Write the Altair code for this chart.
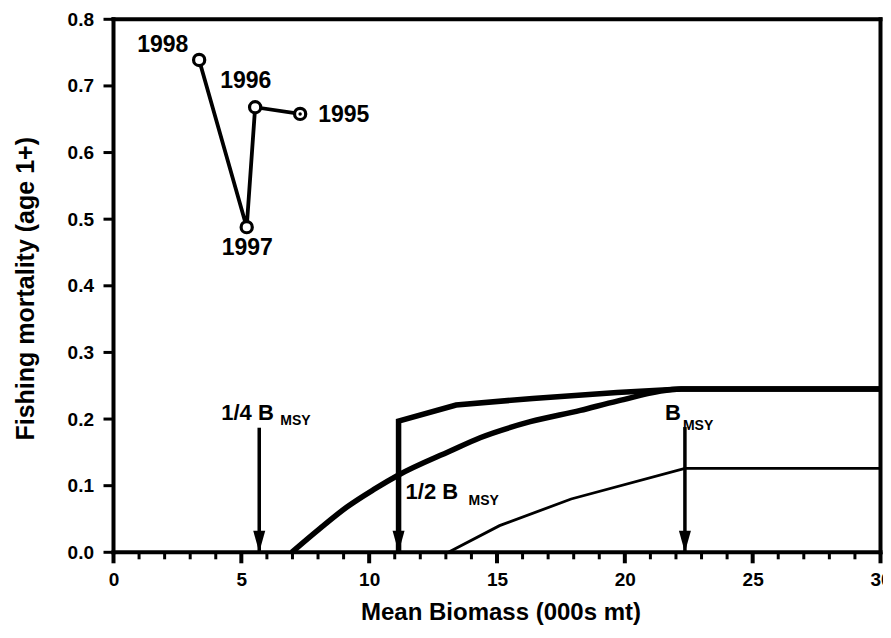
import altair as alt
import pandas as pd

FONT = "Liberation Sans"

# ---- stock trajectory ----
years = [1995, 1996, 1997, 1998]
biomass = [7.3, 5.54, 5.21, 3.35]
fmort = [0.658, 0.668, 0.488, 0.739]

# ---- harvest control rule curves ----
lower_x = [6.97, 8.08, 9.13, 10.17, 11.15, 13.17, 14.34, 16.3, 18.26, 19.7, 22.2, 30]
lower_y = [0.0, 0.036, 0.068, 0.094, 0.116, 0.152, 0.172, 0.196, 0.213, 0.227, 0.245, 0.245]
upper_x = [11.15, 11.15, 13.4, 16.4, 19.7, 22.2, 30]
upper_y = [0.0, 0.197, 0.221, 0.231, 0.240, 0.245, 0.245]
thin_x = [13.1, 15.1, 17.9, 22.35, 30]
thin_y = [0.0, 0.040, 0.080, 0.126, 0.126]

# ---- reference points (arrows) ----
ref_main = ["1/4 B", "1/2 B", "B"]
ref_sub = ["MSY", "MSY", "MSY"]
ref_x = [5.7, 11.15, 22.35]
ref_top = [0.187, 0.197, 0.188]

# ---- axes ----
x_ticks = list(range(0, 31))
x_labels = [0, 5, 10, 15, 20, 25, 30]
y_ticks = [0.0, 0.1, 0.2, 0.3, 0.4, 0.5, 0.6, 0.7, 0.8]
X_MIN, X_MAX = 0, 30
Y_MIN, Y_MAX = 0.0, 0.8

# styles (pixels)
INNER_W, INNER_H = 767, 533          # pixels spanned by 0..30 and 0..0.8
MAJOR_LEN, MINOR_LEN, Y_TICK_LEN = 11, 7, 10
year_offsets = {1998: (-62, -8), 1996: (-35, -19), 1995: (18, 8), 1997: (-25, 28)}
main_offsets = [(-38, -8), (7, 78), (-20, -7)]
sub_offsets = [(21, -3), (70, 84), (-2, 3)]

# pixel -> data unit conversions for the tick lengths
px_x = (X_MAX - X_MIN) / INNER_W
px_y = (Y_MAX - Y_MIN) / INNER_H
x_lo = X_MIN - Y_TICK_LEN * px_x
y_lo = Y_MIN - MAJOR_LEN * px_y

traj = pd.DataFrame({"year": years, "B": biomass, "F": fmort})


def curve_df(xv, yv):
    return pd.DataFrame({"B": xv, "F": yv, "i": list(range(len(xv)))})


refs = pd.DataFrame({"main": ref_main, "sub": ref_sub, "B": ref_x, "F": ref_top,
                     "base": [0.0] * len(ref_x)})

# tick segments (data driven, lengths from the style constants)
xt = pd.DataFrame({
    "B": x_ticks,
    "F": [Y_MIN] * len(x_ticks),
    "F2": [Y_MIN - (MAJOR_LEN if t % 5 == 0 else MINOR_LEN) * px_y for t in x_ticks],
    "w": [4 if t % 5 == 0 else 3 for t in x_ticks],
})
yt = pd.DataFrame({
    "F": y_ticks,
    "B": [X_MIN] * len(y_ticks),
    "B2": [X_MIN - Y_TICK_LEN * px_x] * len(y_ticks),
})
frame = pd.DataFrame({
    "B": [X_MIN, X_MIN, X_MIN, X_MAX],
    "F": [Y_MIN, Y_MIN, Y_MAX, Y_MIN],
    "B2": [X_MAX, X_MIN, X_MAX, X_MAX],
    "F2": [Y_MIN, Y_MAX, Y_MAX, Y_MAX],
})

xs = alt.Scale(domain=[x_lo, X_MAX], nice=False, zero=False)
ys = alt.Scale(domain=[y_lo, Y_MAX], nice=False, zero=False)

common = dict(
    domain=False, ticks=False, grid=False,
    labelFont=FONT, labelFontWeight="bold", labelColor="black", labelFontSize=19,
    labelOverlap=False, labelFlush=False,
    titleFont=FONT, titleFontWeight="bold", titleColor="black",
)
x_axis = alt.Axis(
    values=x_labels, format="d", labelPadding=7,
    title="Mean Biomass (000s mt)", titleFontSize=24,
    titleX=397, titleY=56, titleBaseline="alphabetic", titleAlign="center",
    **common,
)
y_axis = alt.Axis(
    values=y_ticks, format=".1f", labelPadding=10,
    title="Fishing mortality (age 1+)", titleFontSize=25,
    titleX=-70, titleY=269, titleAngle=270, titleBaseline="alphabetic", titleAlign="center",
    **common,
)

X = alt.X("B:Q", scale=xs, axis=x_axis)
Y = alt.Y("F:Q", scale=ys, axis=y_axis)

frame_l = alt.Chart(frame).mark_rule(color="black", strokeWidth=4, strokeCap="square").encode(
    x=X, y=Y, x2="B2:Q", y2="F2:Q")
x_tk = alt.Chart(xt).mark_rule(color="black").encode(
    x=X, y=Y, y2="F2:Q", strokeWidth=alt.StrokeWidth("w:Q", scale=None, legend=None))
y_tk = alt.Chart(yt).mark_rule(color="black", strokeWidth=3).encode(
    x=X, y=Y, x2="B2:Q")

lower = alt.Chart(curve_df(lower_x, lower_y)).mark_line(
    color="black", strokeWidth=5.5, interpolate="monotone").encode(x=X, y=Y, order="i:Q")
upper = alt.Chart(curve_df(upper_x, upper_y)).mark_line(
    color="black", strokeWidth=5.5, strokeJoin="miter").encode(x=X, y=Y, order="i:Q")
thin = alt.Chart(curve_df(thin_x, thin_y)).mark_line(
    color="black", strokeWidth=2.8).encode(x=X, y=Y, order="i:Q")

shafts = alt.Chart(refs).mark_rule(color="black", strokeWidth=3.5).encode(
    x=X, y=Y, y2="base:Q")
heads = alt.Chart(refs).mark_point(
    shape="M -1 -3.6 L 1 -3.6 L 0 0 Z", size=144, filled=True, color="black",
    opacity=1).encode(x=X, y=alt.Y("base:Q", scale=ys, axis=y_axis))

layers = [frame_l, x_tk, y_tk, lower, upper, thin, shafts, heads]

for i in range(len(ref_main)):
    d = refs.iloc[[i]]
    layers.append(alt.Chart(d).mark_text(
        font=FONT, fontWeight="bold", fontSize=22, align="left", baseline="alphabetic",
        dx=main_offsets[i][0], dy=main_offsets[i][1], color="black").encode(
        x=X, y=Y, text="main:N"))
    layers.append(alt.Chart(d).mark_text(
        font=FONT, fontWeight="bold", fontSize=14, align="left", baseline="alphabetic",
        dx=sub_offsets[i][0], dy=sub_offsets[i][1], color="black").encode(
        x=X, y=Y, text="sub:N"))

traj_line = alt.Chart(traj).mark_line(color="black", strokeWidth=3.8).encode(
    x=X, y=Y, order="year:Q")
traj_pts = alt.Chart(traj).mark_point(
    shape="circle", size=125, filled=True, fill="white", stroke="black",
    strokeWidth=3.2, opacity=1).encode(x=X, y=Y)
dot95 = alt.Chart(traj[traj.year == 1995]).mark_point(
    shape="circle", size=12, filled=True, color="black", opacity=1).encode(x=X, y=Y)
layers += [traj_line, traj_pts, dot95]

for yr in years:
    d = traj[traj.year == yr]
    dx, dy = year_offsets[yr]
    layers.append(alt.Chart(d).mark_text(
        font=FONT, fontWeight="bold", fontSize=23, align="left", baseline="alphabetic",
        dx=dx, dy=dy, color="black").encode(x=X, y=Y, text="year:N"))

chart = alt.layer(*layers).properties(
    width=INNER_W + Y_TICK_LEN, height=INNER_H + MAJOR_LEN,
    autosize=alt.AutoSizeParams(type="none"),
    padding={"left": 95.5, "top": 11.3, "right": 2.5, "bottom": 62.7},
).configure_view(
    strokeWidth=0,
)

chart.save("out.html", embed_options={"renderer": "svg", "actions": False})
